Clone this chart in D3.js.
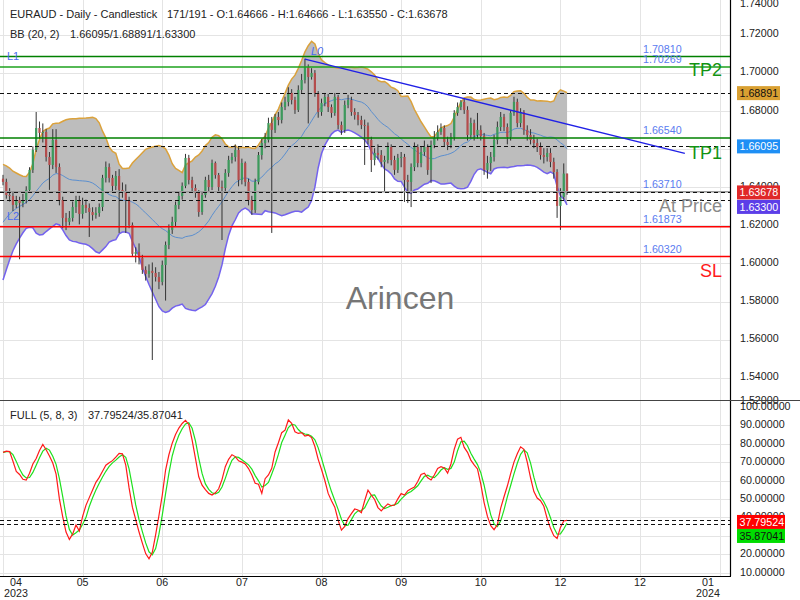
<!DOCTYPE html>
<html><head><meta charset="utf-8">
<script src="https://cdn.jsdelivr.net/npm/d3@7"></script>
<style>html,body{margin:0;padding:0;background:#fff;} svg{display:block;font-family:"Liberation Sans",Arial,sans-serif;}</style>
</head><body><svg id="c" width="800" height="600"></svg>
<script>
// ---------------- DATA ----------------
const priorCloses = [1.5900,1.5940,1.5990,1.6060,1.6100,1.6130,1.6160,1.6200,1.6180,1.6230,1.6260,1.6240,1.6280,1.6310,1.6290,1.6340,1.6370,1.6400,1.6430];
const firstOpen = 1.6440;
const closes = [
1.6423,1.6354,1.6349,1.6302,1.6328,1.6312,1.6328,1.6381,1.6486,1.6591,
1.6706,1.6680,1.6685,1.6554,1.6512,1.6643,1.6501,1.6328,1.6234,1.6213,
1.6234,1.6291,1.6328,1.6255,1.6302,1.6286,1.6265,1.6249,1.6260,1.6291,
1.6444,1.6501,1.6444,1.6402,1.6454,1.6381,1.6370,1.6328,1.6197,1.6045,
1.6055,1.6024,1.5961,1.5940,1.5956,1.5945,1.5924,1.5898,1.5987,1.6092,
1.6171,1.6213,1.6302,1.6349,1.6402,1.6549,1.6433,1.6391,1.6365,1.6265,
1.6354,1.6433,1.6396,1.6522,1.6459,1.6396,1.6391,1.6470,1.6538,1.6554,
1.6591,1.6433,1.6522,1.6423,1.6328,1.6276,1.6423,1.6564,1.6627,1.6643,
1.6732,1.6696,1.6764,1.6748,1.6816,1.6843,1.6890,1.6853,1.6801,1.6906,
1.6958,1.7026,1.6974,1.6995,1.6890,1.6790,1.6837,1.6869,1.6816,1.6785,
1.6869,1.6722,1.6696,1.6827,1.6853,1.6790,1.6774,1.6748,1.6722,1.6718,
1.6643,1.6538,1.6575,1.6564,1.6528,1.6538,1.6606,1.6538,1.6486,1.6549,
1.6554,1.6433,1.6423,1.6501,1.6606,1.6522,1.6580,1.6606,1.6486,1.6617,
1.6654,1.6685,1.6706,1.6633,1.6617,1.6659,1.6785,1.6816,1.6843,1.6801,
1.6669,1.6732,1.6669,1.6696,1.6664,1.6486,1.6522,1.6554,1.6643,1.6711,
1.6764,1.6711,1.6659,1.6785,1.6843,1.6732,1.6790,1.6696,1.6669,1.6643,
1.6627,1.6606,1.6564,1.6554,1.6575,1.6528,1.6475,1.6297,1.6344,1.64666,
1.63678];
const highs = [
1.6460,1.6440,1.6390,1.6370,1.6350,1.6345,1.6360,1.6400,1.6500,1.6610,
1.6790,1.6740,1.6730,1.6700,1.6580,1.6700,1.6700,1.6520,1.6345,1.6260,
1.6270,1.6320,1.6350,1.6350,1.6340,1.6330,1.6310,1.6290,1.6290,1.6310,
1.6460,1.6530,1.6520,1.6460,1.6480,1.6490,1.6420,1.6410,1.6345,1.6210,
1.6080,1.6100,1.6040,1.5980,1.5990,1.6000,1.5975,1.5950,1.6010,1.6110,
1.6200,1.6240,1.6320,1.6370,1.6420,1.6570,1.6565,1.6450,1.6410,1.6380,
1.6370,1.6450,1.6460,1.6540,1.6530,1.6470,1.6430,1.6490,1.6560,1.6575,
1.6620,1.6605,1.6545,1.6530,1.6440,1.6350,1.6440,1.6580,1.6650,1.6680,
1.6760,1.6764,1.6780,1.6790,1.6840,1.6870,1.6920,1.6910,1.6870,1.6930,
1.6990,1.7070,1.7040,1.7020,1.7010,1.6900,1.6860,1.6890,1.6885,1.6830,
1.6890,1.6880,1.6740,1.6850,1.6880,1.6870,1.6810,1.6790,1.6770,1.6750,
1.6735,1.6660,1.6600,1.6620,1.6590,1.6560,1.6630,1.6620,1.6560,1.6570,
1.6580,1.6570,1.6460,1.6520,1.6630,1.6620,1.6610,1.6640,1.6620,1.6640,
1.6690,1.6720,1.6730,1.6720,1.6660,1.6680,1.6800,1.6840,1.6853,1.6860,
1.6820,1.6760,1.6750,1.6785,1.6720,1.6680,1.6560,1.6580,1.6670,1.6740,
1.6790,1.6780,1.6730,1.6800,1.6870,1.6860,1.6810,1.6800,1.6720,1.6700,
1.6670,1.6650,1.6630,1.6600,1.6600,1.6600,1.6550,1.6490,1.6390,1.6520,
1.64666];
const lows = [
1.6405,1.6335,1.6320,1.6270,1.6285,1.6017,1.6290,1.6310,1.6370,1.6470,
1.6580,1.6650,1.6630,1.6530,1.6381,1.6490,1.6470,1.6300,1.6180,1.6170,
1.6195,1.6215,1.6260,1.6200,1.6230,1.6260,1.6134,1.6220,1.6230,1.6240,
1.6270,1.6420,1.6420,1.6370,1.6380,1.6155,1.6340,1.6155,1.6180,1.6030,
1.6000,1.5990,1.5940,1.5905,1.5920,1.5488,1.5900,1.5860,1.5880,1.5800,
1.6070,1.6150,1.6190,1.6280,1.6330,1.6390,1.6410,1.6370,1.6340,1.6240,
1.6250,1.6340,1.6370,1.6380,1.6440,1.6370,1.6118,1.6370,1.6450,1.6520,
1.6530,1.6400,1.6410,1.6400,1.6300,1.6250,1.6260,1.6410,1.6540,1.6600,
1.6630,1.6155,1.6680,1.6720,1.6730,1.6800,1.6820,1.6830,1.6780,1.6790,
1.6890,1.6940,1.6730,1.6960,1.6870,1.6760,1.6770,1.6820,1.6790,1.6760,
1.6770,1.6700,1.6670,1.6680,1.6810,1.6770,1.6750,1.6720,1.6700,1.6512,
1.6620,1.6475,1.6510,1.6540,1.6500,1.6370,1.6520,1.6510,1.6460,1.6470,
1.6500,1.6318,1.6312,1.6291,1.6480,1.6500,1.6500,1.6560,1.6460,1.6417,
1.6600,1.6640,1.6670,1.6610,1.6590,1.6600,1.6640,1.6770,1.6800,1.6780,
1.6640,1.6650,1.6640,1.6650,1.6640,1.6460,1.6440,1.6480,1.6530,1.6620,
1.6690,1.6690,1.6620,1.6640,1.6770,1.6710,1.6710,1.6670,1.6640,1.6620,
1.6600,1.6580,1.6540,1.6520,1.6530,1.6500,1.6440,1.6234,1.6171,1.6330,
1.63550];
const stochK = [
74.8,75.5,75.2,70.0,64.5,62.8,60.2,59.7,63.5,68.5,
71.5,75.8,79.1,76.2,72.8,69.0,63.0,49.5,39.8,31.5,
27.5,30.5,35.3,32.0,40.0,46.0,50.2,54.3,58.5,61.2,
64.5,67.8,69.2,70.3,72.2,74.3,74.0,67.9,55.5,45.0,
38.2,31.5,25.5,19.8,17.0,20.5,30.0,40.5,51.5,65.2,
73.5,79.8,84.5,88.0,90.5,92.2,90.0,81.5,71.5,61.5,
57.0,54.5,52.5,51.6,52.8,55.0,60.0,67.0,71.0,73.5,
72.5,70.2,69.5,68.5,66.0,62.5,58.0,57.5,52.5,60.5,
62.5,66.1,75.0,80.0,85.5,86.9,92.4,90.6,86.0,85.1,
85.5,83.7,84.2,82.8,78.0,71.0,65.5,59.5,52.5,48.5,
45.0,38.0,32.5,34.5,38.8,41.5,44.0,43.5,42.0,48.5,
54.3,51.6,49.2,44.8,43.0,45.0,46.8,45.8,46.2,49.5,
52.4,51.6,54.0,55.0,56.0,59.0,62.8,63.5,61.0,59.8,
62.5,66.1,67.0,66.3,63.5,68.5,76.5,82.0,83.0,77.5,
74.8,70.6,68.0,65.8,57.5,47.5,40.0,35.0,32.8,35.5,
44.5,50.7,56.5,63.2,69.5,74.0,77.8,76.5,69.5,61.0,
53.5,50.0,48.5,45.5,38.8,33.5,29.5,28.0,34.0,37.5,
37.79524];
const bbHeader = [1.66095, 1.68891, 1.63300];
const stochHeader = [37.79524, 35.87041];
const barInfo = [171, 191];
const priceTicks = [1.74,1.72,1.70,1.68,1.66,1.64,1.62,1.60,1.58,1.56,1.54,1.52];
const stochTicks = [100,90,80,70,60,50,40,30,20,10];
const monthTickBars = [0,24,48,72,96,120,144,168,192,216];
const monthLabels = ["04","05","06","07","08","09","10","12","12","01"];
const yearLabels = ["2023","","","","","","","","","2024"];
const levelValues = [1.70810, 1.70269, 1.66540, 1.63710, 1.61873, 1.60320];
const levelKinds = ["tp","tp2","tp","entry","sl","sl"];
const trendBars = [91, 205.5];
const trendPrices = [1.7067, 1.6573];
const lineTags = ["L1","L0","L2"];
const zoneNames = ["TP2","TP1","At Price","SL"];
const zonePrices = [1.7010, 1.6575, 1.6296, 1.5955];

// ---------------- SETUP ----------------
const svg = d3.select("#c");
const W = 730, MAIN_H = 400, SUB_TOP = 400, BOTTOM = 576;
const x = d3.scaleLinear().domain([-3/3.318, 727/3.318]).range([0, W]);
const y = d3.scaleLinear().domain([1.7378, 1.7378 - 400*0.000525]).range([0, MAIN_H]);
const ys = d3.scaleLinear().domain([100, 100 - 170/1.84]).range([406, BOTTOM]);
const fmt5 = d3.format(".5f");
const FONT = "'Liberation Sans', Arial, sans-serif";

const opens = closes.map((c, i) => i === 0 ? firstOpen : closes[i - 1]);
const bars = closes.map((c, i) => ({i, o: opens[i], h: highs[i], l: lows[i], c}));

// Bollinger (20,2)
const full = priorCloses.concat(closes);
const P = priorCloses.length;
const bb = closes.map((c, i) => {
  const win = full.slice(i + P - 19, i + P + 1);
  const m = d3.mean(win);
  const sd = Math.sqrt(d3.mean(win, v => (v - m) * (v - m)));
  return {i, m, u: m + 2 * sd, l: m - 2 * sd};
});
// %D = SMA(3) of %K
const stochD = stochK.map((k, i) => d3.mean(stochK.slice(Math.max(0, i - 2), i + 1)));

const defs = svg.append("defs");
defs.append("clipPath").attr("id", "clipMain").append("rect").attr("x", 0).attr("y", 0).attr("width", W).attr("height", MAIN_H);
defs.append("clipPath").attr("id", "clipSub").append("rect").attr("x", 0).attr("y", SUB_TOP).attr("width", W).attr("height", BOTTOM - SUB_TOP);

// gridlines
const grid = svg.append("g").attr("stroke", "#e4e4e4").attr("stroke-width", 1);
grid.selectAll(".vg").data(monthTickBars).join("line")
  .attr("x1", d => Math.round(x(d)) + 0.5).attr("x2", d => Math.round(x(d)) + 0.5)
  .attr("y1", 0).attr("y2", BOTTOM);
grid.selectAll(".hg").data(priceTicks.filter(t => y(t) > 0 && y(t) < MAIN_H)).join("line")
  .attr("x1", 0).attr("x2", W).attr("y1", d => Math.round(y(d)) + 1.5).attr("y2", d => Math.round(y(d)) + 1.5);
grid.selectAll(".sg").data(stochTicks.filter(t => t < 100)).join("line")
  .attr("x1", 0).attr("x2", W).attr("y1", d => Math.round(ys(d)) + 1.5).attr("y2", d => Math.round(ys(d)) + 1.5);

// ---------------- MAIN PANEL ----------------
const main = svg.append("g").attr("clip-path", "url(#clipMain)");
main.append("path").datum(bb)
  .attr("d", d3.area().x(d => x(d.i)).y0(d => y(d.l)).y1(d => y(d.u)))
  .attr("fill", "#bdbdbd");
main.append("path").datum(bb).attr("fill", "none").attr("stroke", "#5b8fcf").attr("stroke-width", 1)
  .attr("d", d3.line().x(d => x(d.i)).y(d => y(d.m)));
main.append("path").datum(bb).attr("fill", "none").attr("stroke", "#dba23c").attr("stroke-width", 1.5)
  .attr("d", d3.line().x(d => x(d.i)).y(d => y(d.u)));
main.append("path").datum(bb).attr("fill", "none").attr("stroke", "#7362ee").attr("stroke-width", 1.5)
  .attr("d", d3.line().x(d => x(d.i)).y(d => y(d.l)));

// candles
const cg = main.append("g");
cg.selectAll(".wick").data(bars).join("line")
  .attr("x1", d => x(d.i)).attr("x2", d => x(d.i))
  .attr("y1", d => y(d.h)).attr("y2", d => y(d.l))
  .attr("stroke", "#333").attr("stroke-width", 1);
cg.selectAll(".body").data(bars).join("rect")
  .attr("x", d => x(d.i) - 1.1).attr("width", 2.2)
  .attr("y", d => y(Math.max(d.o, d.c)))
  .attr("height", d => Math.max(1, Math.abs(y(d.o) - y(d.c))))
  .attr("fill", d => d.c >= d.o ? "#3c9a5c" : "#b44c4c");

// level lines
const levelStyle = {
  tp: {stroke: "#008000", w: 1.5},
  tp2: {stroke: "#1ea21e", w: 1.5},
  entry: {stroke: "#9a9a9a", w: 1.5},
  sl: {stroke: "#ff0000", w: 1.5}
};
const lv = svg.append("g");
levelValues.forEach((v, k) => {
  const s = levelStyle[levelKinds[k]];
  lv.append("line").attr("x1", 0).attr("x2", W).attr("y1", y(v)).attr("y2", y(v))
    .attr("stroke", s.stroke).attr("stroke-width", s.w);
});
// dashed lines: BB upper, middle, close, BB lower
const dashVals = [bbHeader[1], bbHeader[0], closes[closes.length - 1], bbHeader[2]];
lv.selectAll(".dl").data(dashVals).join("line")
  .attr("x1", 0).attr("x2", W).attr("y1", d => Math.round(y(d)) + 0.5).attr("y2", d => Math.round(y(d)) + 0.5)
  .attr("stroke", "#111").attr("stroke-width", 1).attr("stroke-dasharray", "4,3");
// level value labels
lv.selectAll(".ll").data(levelValues).join("text")
  .attr("x", 643).attr("y", d => y(d) - 7.2).attr("dy", "0.35em")
  .attr("font-size", 10.7).attr("font-family", FONT).attr("fill", "#5a7cf0")
  .text(d => fmt5(d));

// trend line
const trend = trendBars.map((b, k) => ({b, p: trendPrices[k]}));
svg.append("path").datum(trend).attr("fill", "none").attr("stroke", "#2020e6").attr("stroke-width", 1.3)
  .attr("d", d3.line().x(d => x(d.b)).y(d => y(d.p)));

// L labels
const tagPos = [
  {x: x(0) + 4, y: y(levelValues[0])},
  {x: x(trendBars[0]) + 6, y: y(trendPrices[0]) - 8},
  {x: x(0) + 4, y: y(1.6245)}
];
svg.selectAll(".lt").data(lineTags).join("text")
  .attr("x", (d, k) => tagPos[k].x).attr("y", (d, k) => tagPos[k].y).attr("dy", "0.35em")
  .attr("font-size", 11).attr("font-family", FONT).attr("fill", "#4a6cf0")
  .attr("font-style", (d, k) => k === 1 ? "italic" : "normal")
  .text(d => d);

// zone labels
const zoneColor = ["#139313", "#139313", "#8a8a8a", "#ff1a1a"];
svg.selectAll(".zn").data(zoneNames).join("text")
  .attr("x", 722).attr("y", (d, k) => y(zonePrices[k])).attr("dy", "0.35em")
  .attr("text-anchor", "end").attr("font-size", 18).attr("font-family", FONT)
  .attr("fill", (d, k) => zoneColor[k]).text(d => d);

// watermark
svg.append("text").attr("x", 400).attr("y", 298).attr("dy", "0.35em").attr("text-anchor", "middle")
  .attr("font-size", 32).attr("font-family", FONT).attr("fill", "#767676").text("Arincen");

// ---------------- SUB PANEL ----------------
const sub = svg.append("g").attr("clip-path", "url(#clipSub)");
sub.append("path").datum(stochD).attr("fill", "none").attr("stroke", "#1ee01e").attr("stroke-width", 1.2)
  .attr("d", d3.line().x((d, i) => x(i)).y(d => ys(d)));
sub.append("path").datum(stochK).attr("fill", "none").attr("stroke", "#ff1a1a").attr("stroke-width", 1.2)
  .attr("d", d3.line().x((d, i) => x(i)).y(d => ys(d)));
sub.selectAll(".sdl").data(stochHeader).join("line")
  .attr("x1", 0).attr("x2", W).attr("y1", d => Math.round(ys(d)) + 0.5).attr("y2", d => Math.round(ys(d)) + 0.5)
  .attr("stroke", "#111").attr("stroke-width", 1).attr("stroke-dasharray", "4,3");

// ---------------- AXES ----------------
const yAxis = d3.axisRight(y).tickValues(priceTicks).tickFormat(fmt5).tickSize(0).tickPadding(10);
svg.append("g").attr("transform", `translate(${W},0)`).call(yAxis)
  .call(g => g.select(".domain").remove())
  .call(g => g.selectAll(".tick").attr("transform", d => `translate(0,${Math.max(4, Math.min(401, y(d)))})`))
  .call(g => g.selectAll("text").attr("font-size", 10.7).attr("font-family", FONT).attr("fill", "#222"));
const sAxis = d3.axisRight(ys).tickValues(stochTicks).tickFormat(fmt5).tickSize(0).tickPadding(10);
svg.append("g").attr("transform", `translate(${W},0)`).call(sAxis)
  .call(g => g.select(".domain").remove())
  .call(g => g.selectAll("text").attr("font-size", 10.7).attr("font-family", FONT).attr("fill", "#222"));

// frame lines
svg.append("line").attr("x1", W + 0.5).attr("x2", W + 0.5).attr("y1", 0).attr("y2", BOTTOM).attr("stroke", "#000").attr("stroke-width", 1.2);
svg.append("line").attr("x1", 0).attr("x2", W + 1).attr("y1", BOTTOM + 0.5).attr("y2", BOTTOM + 0.5).attr("stroke", "#000").attr("stroke-width", 1.2);
svg.append("line").attr("x1", 0).attr("x2", 800).attr("y1", SUB_TOP + 0.5).attr("y2", SUB_TOP + 0.5).attr("stroke", "#444").attr("stroke-width", 1.2);

// price tags
function tag(val, yPos, bg, fg, w) {
  const g = svg.append("g");
  g.append("rect").attr("x", 737).attr("y", yPos - 7).attr("width", w).attr("height", 14).attr("fill", bg);
  g.append("text").attr("x", 739.5).attr("y", yPos).attr("dy", "0.35em").attr("font-size", 10.7)
    .attr("font-family", FONT).attr("fill", fg).text(fmt5(val));
}
tag(bbHeader[1], y(bbHeader[1]), "#d9a032", "#111", 43);
tag(bbHeader[0], y(bbHeader[0]), "#1e8ff5", "#fff", 43);
tag(closes[closes.length - 1], y(closes[closes.length - 1]), "#e02828", "#fff", 43);
tag(bbHeader[2], y(closes[closes.length - 1]) + 14.5, "#5c3ee8", "#fff", 43);
tag(stochHeader[0], ys(stochHeader[0]) + 1.5, "#ff0000", "#fff", 48);
tag(stochHeader[1], ys(stochHeader[0]) + 15.5, "#00dd00", "#111", 48);

// x axis labels
const xl = svg.append("g").attr("font-family", FONT).attr("font-size", 10.7).attr("fill", "#222").attr("text-anchor", "middle");
monthTickBars.forEach((b, k) => {
  const px = Math.max(16, Math.min(708, x(b)));
  xl.append("text").attr("x", px).attr("y", 582).attr("dy", "0.35em").text(monthLabels[k]);
  if (yearLabels[k]) xl.append("text").attr("x", px).attr("y", 593).attr("dy", "0.35em").text(yearLabels[k]);
});

// headers
const last = bars[bars.length - 1];
const hd = svg.append("g").attr("font-family", FONT).attr("font-size", 11).attr("fill", "#222");
hd.append("text").attr("x", 10).attr("y", 14).attr("dy", "0.35em").text("EURAUD - Daily - Candlestick");
hd.append("text").attr("x", 167).attr("y", 14).attr("dy", "0.35em")
  .text(`${barInfo[0]}/${barInfo[1]} - O:${fmt5(last.o)} - H:${fmt5(last.h)} - L:${fmt5(last.l)} - C:${fmt5(last.c)}`);
hd.append("text").attr("x", 10).attr("y", 34).attr("dy", "0.35em").text("BB (20, 2)");
hd.append("text").attr("x", 70).attr("y", 34).attr("dy", "0.35em").text(bbHeader.map(fmt5).join("/"));
hd.append("text").attr("x", 10).attr("y", 415).attr("dy", "0.35em").text("FULL (5, 8, 3)");
hd.append("text").attr("x", 88).attr("y", 415).attr("dy", "0.35em").text(stochHeader.map(fmt5).join("/"));
</script></body></html>
